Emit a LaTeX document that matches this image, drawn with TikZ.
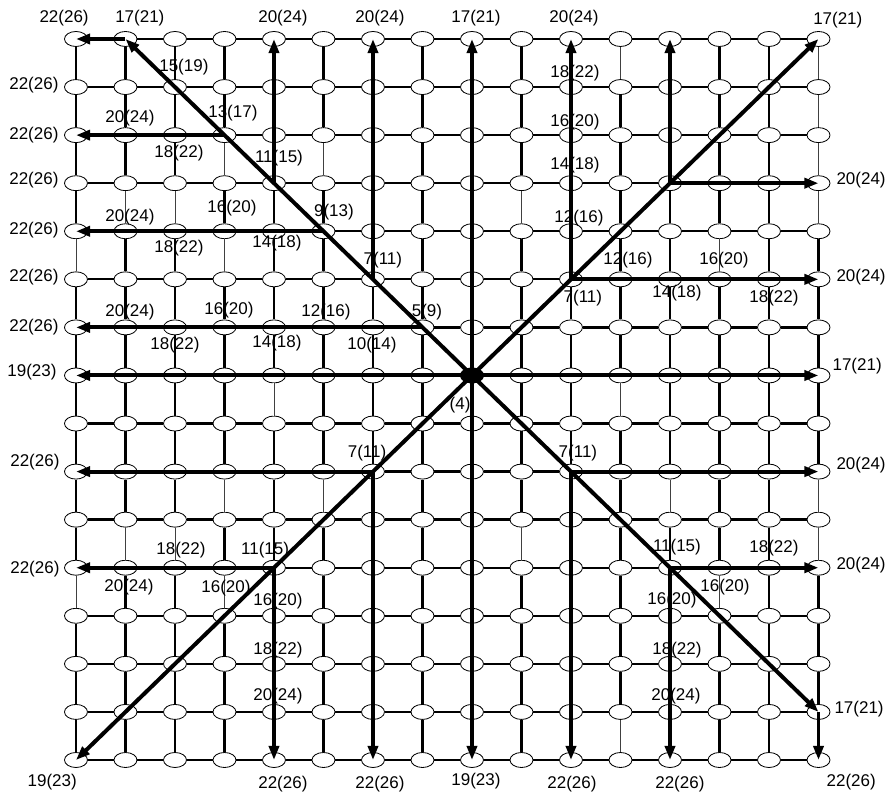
\documentclass[tikz,border=0pt]{standalone}
\usepackage{fontspec}
\setmainfont{Liberation Sans}
\usetikzlibrary{arrows.meta,shapes.geometric,positioning}
\tikzset{
  site/.style  ={ellipse, draw, fill=white, line width=.7pt, inner sep=0pt,
                 minimum width=6.9mm, minimum height=4.5mm},
  hub/.style   ={site, fill=black},
  link/.style  ={line width=2pt},
  thn/.style   ={line width=.6pt, draw=black!75},
  route/.style ={-{Triangle[length=12pt,width=8.5pt]}, line width=3.4pt},
  lbl/.style   ={font=\fontsize{14.5}{17}\selectfont, inner sep=0pt},
}
% thin vertical links, given as column/upper row
\def\thinlinks{11/0,15/0,15/1,15/2,15/3,3/2,5/2,1/3,2/3,9/3,0/4,3/4,13/4,4/7,
  11/7,3/9,5/9,12/9,15/9,1/10,2/10,9/10,15/10,0/11,3/11,13/11,11/14}
\begin{document}
\begin{tikzpicture}[x=1.485cm, y=1.442cm]
  \useasboundingbox (-1.535,0.811) rectangle (16.505,-15.748);
  % --- 16x16 mesh ---
  \foreach \c in {0,...,15}
    \foreach \r in {0,...,15}
      \node[site] (n\c-\r) at (\c,-\r) {};
  \node[hub] (n8-7) at (8,-7) {};
  \foreach \c [evaluate=\c as \d using int(\c+1)] in {0,...,14}
    \foreach \r in {0,...,15}
      \draw[link] (n\c-\r) -- (n\d-\r);
  \foreach \c in {0,...,15}
    \foreach \r [count=\q] in {0,...,14}
      \draw[link] (n\c-\r) -- (n\c-\q);
  % thin ones: wipe, then redraw fine
  \foreach \c/\r in \thinlinks {
    \pgfmathtruncatemacro{\q}{\r+1}
    \draw[line width=2.4pt, white] (n\c-\r) -- (n\c-\q);
    \draw[thn] (n\c-\r) -- (n\c-\q);
  }
  % --- routes out of the source ---
  \foreach \t in {n0-7,n15-7,n8-0,n8-15,n15-0,n0-15,n1-0,n15-14}
    \draw[route] (n8-7.center) -- (\t.center);
  % branches off the diagonals
  \foreach \a/\b in {n1-0/n0-0,n15-14/n15-15,n7-6/n0-6,n6-5/n6-0,n5-4/n0-4,
                     n4-3/n4-0,n3-2/n0-2,n10-5/n10-0,n10-5/n15-5,n12-3/n12-0,
                     n12-3/n15-3,n10-9/n10-15,n10-9/n15-9,n12-11/n15-11,
                     n12-11/n12-15,n6-9/n0-9,n6-9/n6-15,n4-11/n0-11,n4-11/n4-15}
    \draw[route] (\a.center) -- (\b.center);
  % --- hop labels ---
  \foreach \x/\y/\t [count=\i] in {
      -0.24/0.44/{22(26)}, 1.29/0.44/{17(21)}, 4.18/0.44/{20(24)},
      6.14/0.44/{20(24)}, 8.08/0.44/{17(21)}, 10.06/0.44/{20(24)},
      15.39/0.40/{17(21)},
      -0.85/-0.96/{22(26)}, -0.85/-2.00/{22(26)}, -0.85/-2.93/{22(26)},
      -0.85/-3.97/{22(26)}, -0.85/-4.95/{22(26)}, -0.85/-5.99/{22(26)},
      -0.89/-6.93/{19(23)}, -0.83/-8.80/{22(26)}, -0.83/-11.03/{22(26)},
      -0.48/-15.46/{19(23)},
      15.86/-2.93/{20(24)}, 15.86/-4.95/{20(24)}, 15.78/-6.80/{17(21)},
      15.86/-8.86/{20(24)}, 15.86/-10.94/{20(24)}, 15.82/-13.94/{17(21)},
      15.66/-15.46/{22(26)},
      4.18/-15.50/{22(26)}, 6.14/-15.50/{22(26)}, 8.08/-15.44/{19(23)},
      10.02/-15.50/{22(26)}, 12.20/-15.50/{22(26)},
      7.76/-7.61/{(4)},
      7.09/-5.68/{5(9)}, 6.20/-4.60/{7(11)}, 5.21/-3.60/{9(13)},
      4.10/-2.48/{11(15)}, 3.17/-1.54/{13(17)}, 2.18/-0.58/{15(19)},
      1.09/-1.64/{20(24)}, 2.08/-2.37/{18(22)},
      1.09/-3.70/{20(24)}, 3.15/-3.52/{16(20)}, 2.08/-4.35/{18(22)},
      4.06/-4.24/{14(18)},
      1.09/-5.68/{20(24)}, 3.09/-5.64/{16(20)}, 5.05/-5.68/{12(16)},
      2.00/-6.37/{18(22)}, 4.06/-6.32/{14(18)}, 5.98/-6.37/{10(14)},
      10.24/-5.39/{7(11)}, 10.08/-0.71/{18(22)}, 10.08/-1.73/{16(20)},
      10.08/-2.62/{14(18)}, 10.16/-3.72/{12(16)},
      11.15/-4.60/{12(16)}, 13.09/-4.60/{16(20)}, 12.14/-5.28/{14(18)},
      14.10/-5.39/{18(22)},
      10.14/-8.61/{7(11)}, 12.14/-10.57/{11(15)}, 14.10/-10.59/{18(22)},
      13.11/-11.40/{16(20)}, 12.04/-11.67/{16(20)}, 12.14/-12.71/{18(22)},
      12.12/-13.67/{20(24)},
      5.88/-8.61/{7(11)}, 3.82/-10.63/{11(15)}, 2.12/-10.63/{18(22)},
      1.07/-11.40/{20(24)}, 3.03/-11.42/{16(20)}, 4.08/-11.69/{16(20)},
      4.08/-12.71/{18(22)}, 4.08/-13.67/{20(24)}}
    \node[lbl] (lab\i) at (\x,\y) {\t};
\end{tikzpicture}
\end{document}
